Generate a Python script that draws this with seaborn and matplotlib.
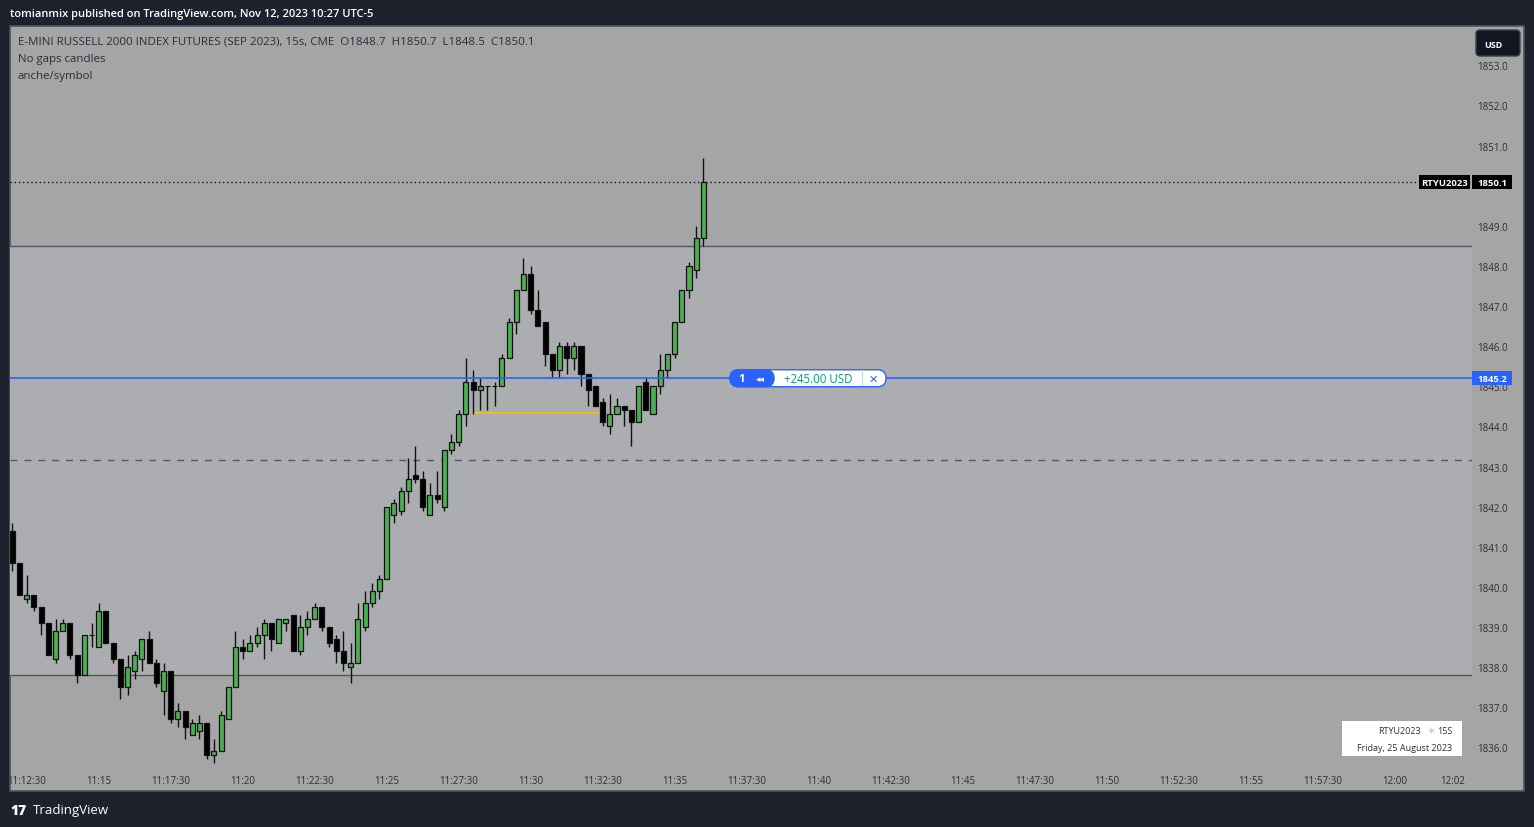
import numpy as np
import pandas as pd
import matplotlib
matplotlib.use("Agg")
import matplotlib.pyplot as plt
import matplotlib.transforms as mtransforms
from matplotlib.patches import Rectangle, FancyBboxPatch
import seaborn as sns

# ---------------- data ----------------
opens = [1841.4, 1840.6, 1839.7, 1839.8, 1839.5, 1839.1, 1838.2, 1838.9, 1839.1, 1838.3,
         1837.8, 1838.8, 1838.5, 1839.4, 1838.6, 1838.2, 1837.5, 1837.9, 1838.2, 1838.7,
         1838.1, 1837.4, 1837.9, 1836.7, 1836.9, 1836.3, 1836.4, 1836.6, 1835.8, 1835.9,
         1836.7, 1837.5, 1838.5, 1838.4, 1838.6, 1838.8, 1839.1, 1838.6, 1839.1, 1839.3,
         1838.4, 1839.0, 1839.2, 1839.5, 1839.0, 1838.7, 1838.4, 1838.0, 1838.1, 1839.0,
         1839.6, 1839.9, 1840.2, 1841.8, 1841.9, 1842.4, 1842.8, 1842.7, 1841.8, 1842.3,
         1842.0, 1843.4, 1843.6, 1844.3, 1845.1, 1844.9, 1845.0, 1845.0, 1845.0, 1845.7,
         1846.6, 1847.4, 1847.8, 1846.9, 1846.6, 1845.8, 1845.4, 1846.0, 1845.7, 1846.0,
         1845.3, 1845.0, 1844.6, 1844.0, 1844.3, 1844.5, 1844.4, 1844.1, 1845.1, 1844.3,
         1845.0, 1845.4, 1845.8, 1846.6, 1847.4, 1847.9, 1848.7]
highs = [1841.6, 1840.6, 1840.3, 1839.8, 1839.5, 1839.1, 1839.2, 1839.2, 1839.1, 1838.3,
         1838.8, 1839.1, 1839.6, 1839.4, 1838.6, 1838.2, 1838.3, 1838.4, 1838.7, 1838.9,
         1838.2, 1838.1, 1837.9, 1837.1, 1836.9, 1836.7, 1836.8, 1836.6, 1836.2, 1836.9,
         1837.5, 1838.9, 1838.7, 1838.8, 1839.0, 1839.2, 1839.1, 1839.2, 1839.2, 1839.3,
         1839.3, 1839.4, 1839.6, 1839.5, 1839.0, 1838.8, 1838.9, 1838.6, 1839.6, 1839.9,
         1840.1, 1840.3, 1842.0, 1842.2, 1842.5, 1843.2, 1843.5, 1842.9, 1842.6, 1842.9,
         1843.4, 1843.8, 1844.4, 1845.7, 1845.4, 1845.2, 1845.0, 1845.1, 1845.8, 1846.7,
         1847.4, 1848.2, 1848.0, 1847.4, 1846.6, 1845.8, 1846.1, 1846.1, 1846.1, 1846.0,
         1845.3, 1845.0, 1844.7, 1844.8, 1844.7, 1844.5, 1844.4, 1845.0, 1845.2, 1845.0,
         1845.8, 1845.8, 1846.6, 1847.4, 1848.1, 1849.0, 1850.7]
lows = [1840.4, 1839.8, 1839.6, 1839.4, 1838.8, 1838.3, 1838.1, 1838.9, 1838.2, 1837.6,
        1837.8, 1838.5, 1838.5, 1838.6, 1838.1, 1837.2, 1837.3, 1837.7, 1837.9, 1838.1,
        1837.5, 1836.8, 1836.6, 1836.5, 1836.2, 1836.3, 1836.2, 1835.7, 1835.6, 1835.9,
        1836.7, 1837.5, 1838.2, 1838.4, 1838.5, 1838.2, 1838.4, 1838.6, 1838.9, 1838.4,
        1838.3, 1838.8, 1839.2, 1838.9, 1838.5, 1838.1, 1837.9, 1837.6, 1838.1, 1838.9,
        1839.5, 1839.7, 1840.2, 1841.6, 1841.8, 1842.1, 1842.6, 1841.9, 1841.8, 1842.1,
        1841.9, 1843.3, 1843.5, 1844.0, 1844.3, 1844.4, 1844.4, 1844.5, 1845.0, 1845.7,
        1846.3, 1847.4, 1846.8, 1846.5, 1845.5, 1845.2, 1845.2, 1845.3, 1845.4, 1845.0,
        1844.5, 1844.5, 1844.0, 1843.8, 1844.3, 1844.0, 1843.5, 1844.1, 1844.4, 1844.3,
        1844.8, 1845.2, 1845.7, 1846.6, 1847.2, 1847.7, 1848.5]
closes = [1840.6, 1839.8, 1839.8, 1839.5, 1839.1, 1838.3, 1838.9, 1839.1, 1838.3, 1837.8,
          1838.8, 1838.8, 1839.4, 1838.6, 1838.2, 1837.5, 1838.0, 1838.3, 1838.7, 1838.1,
          1837.6, 1837.9, 1836.7, 1836.9, 1836.5, 1836.6, 1836.6, 1835.8, 1835.9, 1836.8,
          1837.5, 1838.5, 1838.4, 1838.6, 1838.8, 1839.1, 1838.7, 1839.2, 1839.2, 1838.4,
          1839.0, 1839.2, 1839.5, 1839.0, 1838.6, 1838.4, 1838.1, 1838.1, 1839.2, 1839.6,
          1839.9, 1840.2, 1842.0, 1842.1, 1842.4, 1842.7, 1842.7, 1842.0, 1842.3, 1842.2,
          1843.4, 1843.6, 1844.3, 1845.1, 1844.9, 1845.0, 1845.0, 1845.0, 1845.7, 1846.6,
          1847.4, 1847.8, 1846.9, 1846.5, 1845.8, 1845.4, 1846.0, 1845.7, 1846.0, 1845.3,
          1844.9, 1844.5, 1844.1, 1844.3, 1844.5, 1844.4, 1844.1, 1845.0, 1844.4, 1845.0,
          1845.4, 1845.8, 1846.6, 1847.4, 1848.0, 1848.7, 1850.1]

start_time = "2023-08-25 11:12:00"
bar_seconds = 15
time_ticks = ["11:12:30", "11:15", "11:17:30", "11:20", "11:22:30", "11:25", "11:27:30",
              "11:30", "11:32:30", "11:35", "11:37:30", "11:40", "11:42:30", "11:45",
              "11:47:30", "11:50", "11:52:30", "11:55", "11:57:30", "12:00", "12:02"]
# 1850.0 is hidden behind the last-price label in the reference
price_ticks = [1836.0, 1837.0, 1838.0, 1839.0, 1840.0, 1841.0, 1842.0, 1843.0, 1844.0,
               1845.0, 1846.0, 1847.0, 1848.0, 1849.0, 1851.0, 1852.0, 1853.0]

zone_top = 1848.5
zone_bottom = 1837.8
dashed_level = 1843.15
last_price = 1850.1
position_price = 1845.2
yellow_level = 1844.33
yellow_start = "11:27:57"
yellow_end = "11:32:25"

# ---------------- style ----------------
sns.set_theme(style="white")
plt.rcParams['font.family'] = ['Open Sans', 'DejaVu Sans']

W, H = 1534, 828
fig = plt.figure(figsize=(W / 100, H / 100), dpi=100)
fig.patch.set_facecolor('#1e222d')


def fx(px):
    return px / W


def fy(py):
    return 1 - py / H


panel = Rectangle((fx(10), fy(792)), fx(1524) - fx(10), fy(27) - fy(792),
                  transform=fig.transFigure, facecolor='#a5a5a5',
                  edgecolor='#50535e', lw=1.2, zorder=-5)
fig.add_artist(panel)

ax = fig.add_axes([fx(10), fy(765), fx(1472) - fx(10), fy(27) - fy(765)])
ax.set_facecolor('none')
for s in ax.spines.values():
    s.set_visible(False)

t0 = pd.Timestamp(start_time)
df = pd.DataFrame({"open": opens, "high": highs, "low": lows, "close": closes})
df["time"] = pd.date_range(t0, periods=len(df), freq=f"{bar_seconds}s")


def tidx(label):
    hh, mm, *ss = label.split(":")
    t = pd.Timestamp(f"2023-08-25 {hh}:{mm}:{ss[0] if ss else '00'}")
    return (t - t0).total_seconds() / bar_seconds


df["x"] = [(t - t0).total_seconds() / bar_seconds for t in df["time"]]
up = df["close"] >= df["open"]

ax.set_xlim(-0.32, 202.74)
ax.set_ylim(1835.585, 1853.98)

# middle zone
ax.axhspan(zone_bottom, zone_top, color='#acadb1', zorder=0, lw=0)

# levels
ax.axhline(zone_top, color='#555862', lw=1, zorder=1)
ax.axhline(zone_bottom, color='#555862', lw=1, zorder=1)
ax.axhline(dashed_level, color='#555862', lw=1, ls=(0, (5, 5)), zorder=1)
ax.axhline(last_price, color='#131722', lw=1, ls=(0, (1, 2)), zorder=1)
ax.hlines(yellow_level, tidx(yellow_start), tidx(yellow_end), color='#f5c400', lw=1.2, zorder=1)

# candles
ax.vlines(df["x"], df["low"], df["high"], color='#111111', lw=1, zorder=2)
bottoms = np.minimum(df["open"], df["close"])
heights = np.abs(df["close"] - df["open"])
colors = np.where(up, '#4caf50', '#000000')
ax.bar(df["x"], heights, bottom=bottoms, width=0.72, color=colors,
       edgecolor='#111111', linewidth=0.9, zorder=3)

ax.axhline(position_price, color='#2962ff', lw=1.2, zorder=4)

# axes ticks
ax.set_xticks([tidx(t) for t in time_ticks])
ax.set_xticklabels(time_ticks)
ax.yaxis.tick_right()
ax.set_yticks(price_ticks)
ax.set_yticklabels([f"{p:.1f}" for p in price_ticks])
ax.tick_params(axis='x', length=0, pad=8, labelsize=7, labelcolor='#2a2e39')
ax.tick_params(axis='y', length=0, pad=4, labelsize=7, labelcolor='#2a2e39')
ax.grid(False)
for lbl in ax.get_xticklabels():
    lbl.set_clip_on(True)
    lbl.set_clip_path(panel)

fig.canvas.draw()


def ytop(p):
    d = ax.transData.transform((0, p))[1]
    return H - d


def box(x0, x1, yc, h, fc, ec='none', rs=0, lw=1, z=10):
    y0 = H - (yc + h / 2)
    if rs > 0:
        p = FancyBboxPatch((x0, y0), x1 - x0, h, boxstyle=f'round,pad=0,rounding_size={rs}',
                           transform=mtransforms.IdentityTransform(), fc=fc, ec=ec, lw=lw, zorder=z)
    else:
        p = Rectangle((x0, y0), x1 - x0, h, transform=mtransforms.IdentityTransform(),
                      fc=fc, ec=ec, lw=lw, zorder=z)
    fig.add_artist(p)


def txt(x, yt, s, **kw):
    kw.setdefault('va', 'center')
    kw.setdefault('zorder', 11)
    fig.text(fx(x), fy(yt), s, **kw)


# right-side price labels
y_last = ytop(last_price)
box(1419, 1470, y_last, 14, '#000000')
box(1472, 1512, y_last, 14, '#000000')
txt(1444.5, y_last + 0.5, 'RTYU2023', ha='center', color='white', fontsize=6.8, fontweight='bold')
txt(1492, y_last + 0.5, f'{last_price:.1f}', ha='center', color='white', fontsize=6.8, fontweight='bold')

y_pos = ytop(position_price)
box(1472, 1512, y_pos, 14, '#2962ff')
txt(1492, y_pos + 0.5, f'{position_price:.1f}', ha='center', color='white', fontsize=6.8, fontweight='bold')

# USD button
box(1476, 1520, 44, 26, '#131722', ec='#3a3e4a', rs=4)
txt(1493, 45, 'USD', ha='center', color='white', fontsize=6.5, fontweight='bold')

# position pill
box(730, 886, y_pos, 17, 'white', ec='#2962ff', rs=8.5, lw=1)
box(730, 774, y_pos, 17, '#2962ff', ec='#2962ff', rs=8.5, lw=1, z=10.5)
txt(742, y_pos + 0.5, '1', ha='center', color='white', fontsize=8, fontweight='bold')
txt(760, y_pos + 0.5, '◂◂', ha='center', color='white', fontsize=6.5, family=['DejaVu Sans'])
txt(818, y_pos + 0.5, '+245.00 USD', ha='center', color='#089981', fontsize=8.3)
fig.add_artist(Rectangle((862, H - y_pos - 8), 1, 16, transform=mtransforms.IdentityTransform(),
                         fc='#c8d2f0', ec='none', zorder=11))
txt(873, y_pos + 0.5, '✕', ha='center', color='#2962ff', fontsize=8, family=['DejaVu Sans'])

# header texts
txt(10, 15, 'tomianmix published on TradingView.com, Nov 12, 2023 10:27 UTC-5',
    color='white', fontsize=8.0, fontweight='semibold')
txt(18, 42, 'E-MINI RUSSELL 2000 INDEX FUTURES (SEP 2023), 15s, CME  O1848.7  H1850.7  L1848.5  C1850.1',
    color='#2a2e39', fontsize=8.25)
txt(18, 59.5, 'No gaps candles', color='#2a2e39', fontsize=8.25)
txt(18, 76.5, 'anche/symbol', color='#2a2e39', fontsize=8.25)

# info box bottom right
box(1342, 1462, 739.5, 35, 'white', z=10)
txt(1452, 732, '15S', ha='right', color='#2a2e39', fontsize=6.5)
txt(1431, 732, '✳', ha='center', color='#b0b3bb', fontsize=6.5, family=['DejaVu Sans'])
txt(1421, 732, 'RTYU2023', ha='right', color='#2a2e39', fontsize=6.5)
txt(1452, 749, 'Friday, 25 August 2023', ha='right', color='#2a2e39', fontsize=6.5)

# footer
txt(10, 811, '17', color='white', fontsize=10, fontweight='heavy')
txt(33, 811, 'TradingView', color='white', fontsize=9.5)

fig.savefig('out.png', dpi=100, facecolor=fig.get_facecolor())
